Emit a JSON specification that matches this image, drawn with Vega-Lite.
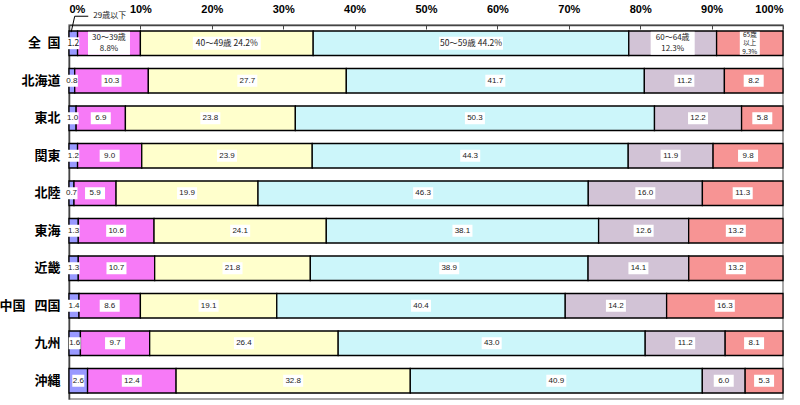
{
  "$schema": "https://vega.github.io/schema/vega-lite/v6.json",
  "width": 714,
  "height": 374,
  "autosize": {"type": "none"},
  "padding": {"left": 69, "top": 25, "right": 17, "bottom": 6},
  "background": "white",
  "config": {
    "view": {"stroke": "#8c8c8c", "strokeWidth": 1.5},
    "font": "Noto Sans CJK JP"
  },
  "data": {
    "values": [
      {"region": "全\u2002国", "age": "29歳以下", "value": 1.2, "label": "1.2"},
      {"region": "全\u2002国", "age": "30〜39歳", "value": 8.8, "label": "30〜39歳\n8.8%"},
      {"region": "全\u2002国", "age": "40〜49歳", "value": 24.2, "label": "40〜49歳  24.2%"},
      {"region": "全\u2002国", "age": "50〜59歳", "value": 44.2, "label": "50〜59歳  44.2%"},
      {"region": "全\u2002国", "age": "60〜64歳", "value": 12.3, "label": "60〜64歳\n12.3%"},
      {"region": "全\u2002国", "age": "65歳以上", "value": 9.3, "label": "65歳\n以上\n9.3%"},
      {"region": "北海道", "age": "29歳以下", "value": 0.8},
      {"region": "北海道", "age": "30〜39歳", "value": 10.3},
      {"region": "北海道", "age": "40〜49歳", "value": 27.7},
      {"region": "北海道", "age": "50〜59歳", "value": 41.7},
      {"region": "北海道", "age": "60〜64歳", "value": 11.2},
      {"region": "北海道", "age": "65歳以上", "value": 8.2},
      {"region": "東北", "age": "29歳以下", "value": 1.0},
      {"region": "東北", "age": "30〜39歳", "value": 6.9},
      {"region": "東北", "age": "40〜49歳", "value": 23.8},
      {"region": "東北", "age": "50〜59歳", "value": 50.3},
      {"region": "東北", "age": "60〜64歳", "value": 12.2},
      {"region": "東北", "age": "65歳以上", "value": 5.8},
      {"region": "関東", "age": "29歳以下", "value": 1.2},
      {"region": "関東", "age": "30〜39歳", "value": 9.0},
      {"region": "関東", "age": "40〜49歳", "value": 23.9},
      {"region": "関東", "age": "50〜59歳", "value": 44.3},
      {"region": "関東", "age": "60〜64歳", "value": 11.9},
      {"region": "関東", "age": "65歳以上", "value": 9.8},
      {"region": "北陸", "age": "29歳以下", "value": 0.7},
      {"region": "北陸", "age": "30〜39歳", "value": 5.9},
      {"region": "北陸", "age": "40〜49歳", "value": 19.9},
      {"region": "北陸", "age": "50〜59歳", "value": 46.3},
      {"region": "北陸", "age": "60〜64歳", "value": 16.0},
      {"region": "北陸", "age": "65歳以上", "value": 11.3},
      {"region": "東海", "age": "29歳以下", "value": 1.3},
      {"region": "東海", "age": "30〜39歳", "value": 10.6},
      {"region": "東海", "age": "40〜49歳", "value": 24.1},
      {"region": "東海", "age": "50〜59歳", "value": 38.1},
      {"region": "東海", "age": "60〜64歳", "value": 12.6},
      {"region": "東海", "age": "65歳以上", "value": 13.2},
      {"region": "近畿", "age": "29歳以下", "value": 1.3},
      {"region": "近畿", "age": "30〜39歳", "value": 10.7},
      {"region": "近畿", "age": "40〜49歳", "value": 21.8},
      {"region": "近畿", "age": "50〜59歳", "value": 38.9},
      {"region": "近畿", "age": "60〜64歳", "value": 14.1},
      {"region": "近畿", "age": "65歳以上", "value": 13.2},
      {"region": "中国\u2002\u2009四国", "age": "29歳以下", "value": 1.4},
      {"region": "中国\u2002\u2009四国", "age": "30〜39歳", "value": 8.6},
      {"region": "中国\u2002\u2009四国", "age": "40〜49歳", "value": 19.1},
      {"region": "中国\u2002\u2009四国", "age": "50〜59歳", "value": 40.4},
      {"region": "中国\u2002\u2009四国", "age": "60〜64歳", "value": 14.2},
      {"region": "中国\u2002\u2009四国", "age": "65歳以上", "value": 16.3},
      {"region": "九州", "age": "29歳以下", "value": 1.6},
      {"region": "九州", "age": "30〜39歳", "value": 9.7},
      {"region": "九州", "age": "40〜49歳", "value": 26.4},
      {"region": "九州", "age": "50〜59歳", "value": 43.0},
      {"region": "九州", "age": "60〜64歳", "value": 11.2},
      {"region": "九州", "age": "65歳以上", "value": 8.1},
      {"region": "沖縄", "age": "29歳以下", "value": 2.6},
      {"region": "沖縄", "age": "30〜39歳", "value": 12.4},
      {"region": "沖縄", "age": "40〜49歳", "value": 32.8},
      {"region": "沖縄", "age": "50〜59歳", "value": 40.9},
      {"region": "沖縄", "age": "60〜64歳", "value": 6.0},
      {"region": "沖縄", "age": "65歳以上", "value": 5.3}
    ]
  },
  "encoding": {
    "y": {
      "field": "region",
      "type": "nominal",
      "sort": ["全\u2002国", "北海道", "東北", "関東", "北陸", "東海", "近畿", "中国\u2002\u2009四国", "九州", "沖縄"],
      "scale": {"paddingInner": 0.347, "paddingOuter": 0.16},
      "axis": {
        "title": null,
        "domain": true,
        "domainColor": "#444444",
        "domainWidth": 1.5,
        "ticks": false,
        "labelFontSize": 13,
        "labelFontWeight": "bold",
        "labelColor": "black",
        "labelPadding": 9,
        "labelFont": "Noto Sans CJK JP"
      }
    },
    "order": {"field": "age", "type": "nominal", "sort": "ascending"}
  },
  "layer": [
    {
      "mark": {"type": "bar", "stroke": "black", "strokeWidth": 1.3},
      "encoding": {
        "x": {
          "field": "value",
          "type": "quantitative",
          "stack": "normalize",
          "scale": {"domain": [0, 1], "nice": false},
          "axis": {
            "orient": "top",
            "title": null,
            "format": ".0%",
            "values": [0, 0.1, 0.2, 0.3, 0.4, 0.5, 0.6, 0.7, 0.8, 0.9, 1],
            "labelFontSize": 11,
            "labelFontWeight": "bold",
            "labelColor": "black",
            "labelFont": "Liberation Sans",
            "domainColor": "#444444",
            "domainWidth": 1.5,
            "tickColor": "#444444",
            "tickSize": -4,
            "labelPadding": 15,
            "grid": false
          }
        },
        "color": {
          "field": "age",
          "type": "nominal",
          "scale": {
            "domain": ["29歳以下", "30〜39歳", "40〜49歳", "50〜59歳", "60〜64歳", "65歳以上"],
            "range": ["#9999FF", "#F77AF7", "#FFFFCC", "#CCF6FA", "#D2C3D6", "#F79494"]
          },
          "legend": null
        }
      }
    },
    {
      "transform": [{"filter": "!isValid(datum.label)"}],
      "mark": {"type": "point", "filled": true, "color": "white", "opacity": 1, "size": 400},
      "encoding": {
        "x": {"field": "value", "type": "quantitative", "stack": "normalize", "bandPosition": 0.5},
        "detail": {"field": "age", "type": "nominal"},
        "shape": {
          "field": "age",
          "type": "nominal",
          "scale": {
            "domain": ["29歳以下", "30〜39歳", "40〜49歳", "50〜59歳", "60〜64歳", "65歳以上"],
            "range": ["M-0.6,-0.6H0.6V0.6H-0.6Z", "M-1,-0.6H1V0.6H-1Z", "M-1,-0.6H1V0.6H-1Z", "M-1,-0.6H1V0.6H-1Z", "M-1,-0.6H1V0.6H-1Z", "M-1,-0.6H1V0.6H-1Z"]
          },
          "legend": null
        }
      }
    },
    {
      "transform": [{"filter": "!isValid(datum.label)"}],
      "mark": {"type": "text", "fontSize": 8, "color": "#222222", "font": "Liberation Sans", "baseline": "middle"},
      "encoding": {
        "x": {"field": "value", "type": "quantitative", "stack": "normalize", "bandPosition": 0.5},
        "detail": {"field": "age", "type": "nominal"},
        "text": {"field": "value", "type": "quantitative", "format": ".1f"}
      }
    },
    {
      "transform": [{"filter": "isValid(datum.label)"}],
      "mark": {"type": "point", "filled": true, "color": "white", "opacity": 1, "size": 4900},
      "encoding": {
        "x": {"field": "value", "type": "quantitative", "stack": "normalize", "bandPosition": 0.5},
        "detail": {"field": "age", "type": "nominal"},
        "shape": {
          "field": "age",
          "type": "nominal",
          "scale": {
            "domain": ["29歳以下", "30〜39歳", "40〜49歳", "50〜59歳", "60〜64歳", "65歳以上"],
            "range": ["M-0.17,-0.17H0.17V0.17H-0.17Z", "M-0.6,-0.33H0.6V0.33H-0.6Z", "M-0.97,-0.186H0.97V0.186H-0.97Z", "M-0.914,-0.186H0.914V0.186H-0.914Z", "M-0.629,-0.33H0.629V0.33H-0.629Z", "M-0.286,-0.33H0.286V0.33H-0.286Z"]
          },
          "legend": null
        }
      }
    },
    {
      "transform": [{"filter": "isValid(datum.label)"}],
      "mark": {"type": "text", "fontSize": 8.5, "color": "#222222", "baseline": "middle"},
      "encoding": {
        "x": {"field": "value", "type": "quantitative", "stack": "normalize", "bandPosition": 0.5},
        "detail": {"field": "age", "type": "nominal"},
        "text": {"condition": {"test": "indexof(datum.label, '\\n') < 0", "field": "label"}, "value": ""}
      }
    },
    {
      "transform": [{"filter": "isValid(datum.label)"}],
      "mark": {"type": "text", "fontSize": 8, "color": "#222222", "lineBreak": "\n", "baseline": "middle", "lineHeight": 11, "dy": -5.5},
      "encoding": {
        "x": {"field": "value", "type": "quantitative", "stack": "normalize", "bandPosition": 0.5},
        "detail": {"field": "age", "type": "nominal"},
        "text": {"condition": {"test": "length(split(datum.label, '\\n')) == 2", "field": "label"}, "value": ""}
      }
    },
    {
      "transform": [{"filter": "isValid(datum.label)"}],
      "mark": {"type": "text", "fontSize": 6.5, "color": "#222222", "lineBreak": "\n", "baseline": "middle", "lineHeight": 8.5, "dy": -8.5},
      "encoding": {
        "x": {"field": "value", "type": "quantitative", "stack": "normalize", "bandPosition": 0.5},
        "detail": {"field": "age", "type": "nominal"},
        "text": {"condition": {"test": "length(split(datum.label, '\\n')) == 3", "field": "label"}, "value": ""}
      }
    },
    {
      "data": {"values": [{"t": "29歳以下"}]},
      "mark": {"type": "rule", "color": "black", "strokeWidth": 1, "yOffset": -11, "y2Offset": -27},
      "encoding": {
        "x": {"datum": 0.003, "type": "quantitative"},
        "x2": {"datum": 0.008},
        "y": {"datum": "全\u2002国", "type": "nominal"},
        "y2": {"datum": "全\u2002国"}
      }
    },
    {
      "data": {"values": [{"t": "29歳以下"}]},
      "mark": {"type": "rule", "color": "black", "strokeWidth": 1, "yOffset": -27},
      "encoding": {
        "x": {"datum": 0.008, "type": "quantitative"},
        "x2": {"datum": 0.027},
        "y": {"datum": "全\u2002国", "type": "nominal"}
      }
    },
    {
      "data": {"values": [{"t": "29歳以下"}]},
      "mark": {"type": "text", "fontSize": 8, "color": "#222222", "align": "left", "baseline": "middle", "dy": -27},
      "encoding": {
        "x": {"datum": 0.034, "type": "quantitative"},
        "y": {"datum": "全\u2002国", "type": "nominal"},
        "text": {"field": "t", "type": "nominal"}
      }
    }
  ],
  "resolve": {"scale": {"shape": "independent"}}
}
